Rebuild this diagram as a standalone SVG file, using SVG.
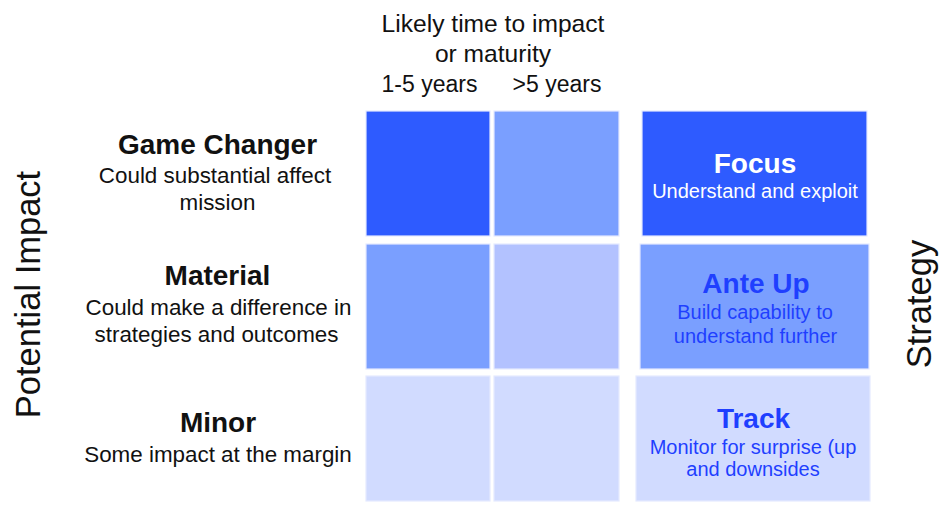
<svg xmlns="http://www.w3.org/2000/svg" width="939" height="518" viewBox="0 0 939 518">
<style>
text{font-family:"Liberation Sans",Arial,Helvetica,sans-serif;text-anchor:middle;fill:#111}
.h{font-weight:bold;font-size:28px}
.s{font-size:22.4px}
.rs{font-size:20px}
.top{font-size:24.6px}
.yr{font-size:23px}
.axis{font-size:34.5px}
.cell{stroke:#e4eaff;stroke-width:1.2}
.c1{fill:#2e5bff}
.c2{fill:#7a9fff}
.c3{fill:#b3c2ff}
.c4{fill:#d1dbff}
.w{fill:#ffffff}
.b{fill:#1f3fff}
</style>
<rect width="939" height="518" fill="#ffffff"/>
<g id="header">
<text class="top" x="493" y="32">Likely time to impact</text>
<text class="top" x="493" y="62">or maturity</text>
<text class="yr" x="429.5" y="92">1-5 years</text>
<text class="yr" x="557" y="92">&gt;5 years</text>
</g>
<g id="axis-potential-impact">
<text class="axis" transform="translate(40,294.5) rotate(-90)">Potential Impact</text>
</g>
<g id="axis-strategy">
<text class="axis" transform="translate(931,304) rotate(-90)">Strategy</text>
</g>
<g id="row-game-changer">
<text class="h" x="217.5" y="154">Game Changer</text>
<text class="s" x="215" y="183">Could substantial affect</text>
<text class="s" x="217.5" y="210">mission</text>
</g>
<g id="row-material">
<text class="h" x="217.5" y="285">Material</text>
<text class="s" x="218.5" y="315">Could make a difference in</text>
<text class="s" x="216.5" y="342">strategies and outcomes</text>
</g>
<g id="row-minor">
<text class="h" x="218" y="432">Minor</text>
<text class="s" x="218" y="462">Some impact at the margin</text>
</g>
<g id="cell-gc-short"><rect class="cell c1" x="366" y="111" width="124" height="125"/></g>
<g id="cell-gc-long"><rect class="cell c2" x="494" y="111" width="125" height="125"/></g>
<g id="cell-mat-short"><rect class="cell c2" x="366" y="244" width="124" height="125"/></g>
<g id="cell-mat-long"><rect class="cell c3" x="494" y="244" width="125" height="125"/></g>
<g id="cell-min-short"><rect class="cell c4" x="366" y="376" width="124" height="125"/></g>
<g id="cell-min-long"><rect class="cell c4" x="494" y="376" width="125" height="125"/></g>
<g id="strategy-focus">
<rect class="cell c1" x="642" y="111" width="225" height="125"/>
<text class="h w" x="755" y="173">Focus</text>
<text class="rs w" x="755" y="198">Understand and exploit</text>
</g>
<g id="strategy-ante-up">
<rect class="cell c2" x="640" y="244" width="229" height="125"/>
<text class="h b" x="756" y="293">Ante Up</text>
<text class="rs b" x="755" y="319">Build capability to</text>
<text class="rs b" x="755.5" y="343">understand further</text>
</g>
<g id="strategy-track">
<rect class="cell c4" x="636" y="376" width="234" height="125"/>
<text class="h b" x="753.5" y="428">Track</text>
<text class="rs b" x="753" y="454">Monitor for surprise (up</text>
<text class="rs b" x="753" y="476">and downsides</text>
</g>
<g id="connectors"/>
</svg>
